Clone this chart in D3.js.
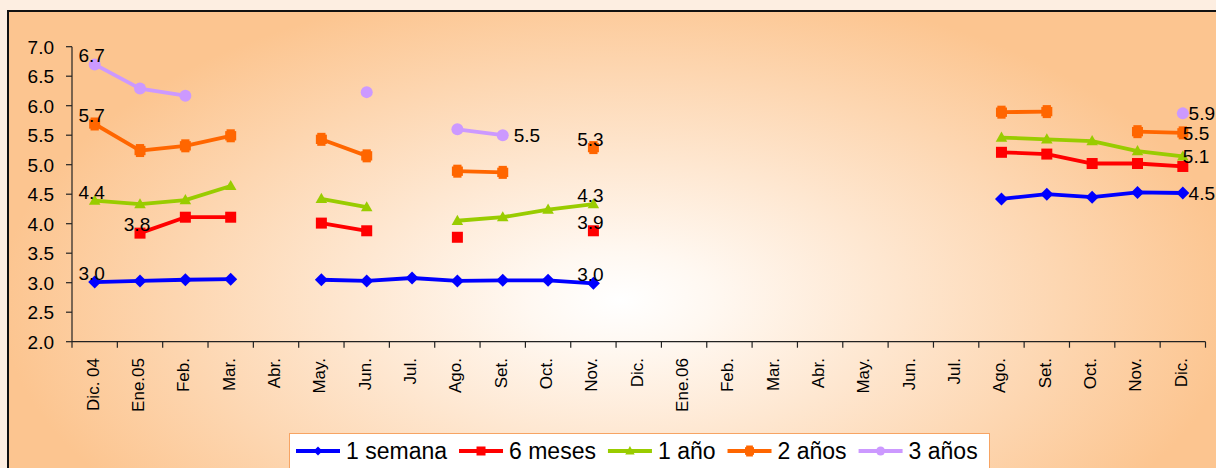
<!DOCTYPE html>
<html>
<head>
<meta charset="utf-8">
<script src="https://cdn.jsdelivr.net/npm/d3@7"></script>
<style>
  html, body { margin: 0; padding: 0; background: #fdeee1; }
  svg { display: block; }
  text { font-family: "Liberation Sans", Arial, sans-serif; fill: #000; }
</style>
</head>
<body>
<svg id="chart" width="1216" height="468"></svg>
<script>
// ---- data ----
const months = ["Dic. 04","Ene.05","Feb.","Mar.","Abr.","May.","Jun.","Jul.","Ago.","Set.","Oct.","Nov.","Dic.",
                "Ene.06","Feb.","Mar.","Abr.","May.","Jun.","Jul.","Ago.","Set.","Oct.","Nov.","Dic."];
const yTicks = [2.0,2.5,3.0,3.5,4.0,4.5,5.0,5.5,6.0,6.5,7.0];
const seriesNames = ["1 semana","6 meses","1 año","2 años","3 años"];
const semana1 = [3.01,3.03,3.05,3.06,null,3.05,3.03,3.08,3.03,3.04,3.04,2.99,null,null,null,null,null,null,null,null,4.42,4.50,4.45,4.53,4.52];
const meses6  = [null,3.84,4.11,4.11,null,4.01,3.88,null,3.77,null,null,3.88,null,null,null,null,null,null,null,null,5.21,5.18,5.02,5.02,4.97];
const ano1    = [4.39,4.33,4.40,4.64,null,4.42,4.28,null,4.05,4.11,4.24,4.33,null,null,null,null,null,null,null,null,5.46,5.43,5.40,5.23,5.14];
const anos2   = [5.69,5.24,5.32,5.49,null,5.43,5.15,null,4.89,4.87,null,5.29,null,null,null,null,null,null,null,null,5.89,5.90,null,5.56,5.54];
const anos3   = [6.70,6.29,6.17,null,null,null,6.23,null,5.60,5.50,null,null,null,null,null,null,null,null,null,null,null,null,null,null,5.87];
// data labels: [series index, month index, placement]
const dataLabels = [[4,0,"above"],[3,0,"above"],[2,0,"above"],[1,1,"above"],[0,0,"above"],
                    [4,9,"right"],[3,11,"above"],[2,11,"above"],[1,11,"above"],[0,11,"above"],
                    [4,24,"edge"],[3,24,"over"],[2,24,"over"],[0,24,"edge"]];

const allSeries = [semana1, meses6, ano1, anos2, anos3];
const colors = ["#0000ff","#ff0000","#99cc00","#ff6600","#cc99ff"];
const shapes = ["diamond","square","triangle","square2","circle"];

// ---- layout ----
const svg = d3.select("#chart");
const defs = svg.append("defs");
const grad = defs.append("radialGradient").attr("id","bg")
  .attr("gradientUnits","userSpaceOnUse")
  .attr("cx",620).attr("cy",300).attr("r",620)
  .attr("gradientTransform","translate(620,300) scale(1,0.52) translate(-620,-300)");
grad.append("stop").attr("offset",0).attr("stop-color","#ffffff");
grad.append("stop").attr("offset",0.15).attr("stop-color","#fff8f1");
grad.append("stop").attr("offset",1).attr("stop-color","#fcc590");

svg.append("rect").attr("x",8).attr("y",11).attr("width",1220).attr("height",470)
  .attr("fill","url(#bg)").attr("stroke","#111").attr("stroke-width",2);

const x = d3.scaleBand().domain(d3.range(months.length)).range([72,1205.5]).paddingInner(0).paddingOuter(0);
const y = d3.scaleLinear().domain([2,7]).range([341.7,46.7]);
const cx = i => x(i) + x.bandwidth()/2;

// y axis
const gy = svg.append("g");
gy.append("line").attr("x1",72).attr("x2",72).attr("y1",y(7)).attr("y2",y(2)).attr("stroke","#222").attr("stroke-width",1.2);
gy.selectAll("line.t").data(yTicks).join("line").attr("class","t")
  .attr("x1",66).attr("x2",72).attr("y1",d=>y(d)).attr("y2",d=>y(d)).attr("stroke","#222").attr("stroke-width",1.2);
gy.selectAll("text").data(yTicks).join("text")
  .attr("x",54).attr("y",d=>y(d)).attr("dy","0.36em").attr("text-anchor","end")
  .style("font-size","19px").text(d=>d3.format(".1f")(d));

// x axis
const gx = svg.append("g");
gx.append("line").attr("x1",72).attr("x2",1205.5).attr("y1",y(2)).attr("y2",y(2)).attr("stroke","#222").attr("stroke-width",1.2);
const bounds = d3.range(months.length+1).map(i => i < months.length ? x(i) : x(months.length-1)+x.bandwidth());
gx.selectAll("line.t").data(bounds).join("line").attr("class","t")
  .attr("x1",d=>d).attr("x2",d=>d).attr("y1",y(2)).attr("y2",y(2)+6).attr("stroke","#222").attr("stroke-width",1.2);
gx.selectAll("text").data(months).join("text")
  .attr("transform",(d,i)=>`translate(${cx(i)-2},358) rotate(-90)`)
  .attr("dy","0.35em").attr("text-anchor","end")
  .style("font-size","17px").text(d=>d);

// marker drawing
function drawMarker(g, shape, color, s) {
  if (shape === "diamond") {
    g.append("path").attr("d",`M0,${-s}L${s},0L0,${s}L${-s},0Z`).attr("fill",color);
  } else if (shape === "square") {
    g.append("rect").attr("x",-s).attr("y",-s).attr("width",2*s).attr("height",2*s).attr("fill",color);
  } else if (shape === "square2") {
    g.append("rect").attr("x",-s).attr("y",-s*0.85).attr("width",2*s).attr("height",1.7*s).attr("fill",color);
    g.append("line").attr("x1",0).attr("x2",0).attr("y1",-s-1).attr("y2",s+1).attr("stroke",color).attr("stroke-width",1.5*s);
  } else if (shape === "triangle") {
    g.append("path").attr("d",`M0,${-s*1.1}L${s*1.05},${s*0.75}L${-s*1.05},${s*0.75}Z`).attr("fill",color);
  } else {
    g.append("circle").attr("r",s).attr("fill",color);
  }
}

// series
const line = d3.line().defined(d=>d.v!=null).x(d=>cx(d.i)).y(d=>y(d.v));
allSeries.forEach((vals, k) => {
  const pts = vals.map((v,i)=>({i, v}));
  const g = svg.append("g");
  g.append("path").attr("d", line(pts)).attr("fill","none")
    .attr("stroke",colors[k]).attr("stroke-width",3.8).attr("stroke-linejoin","round");
  pts.filter(d=>d.v!=null).forEach(d => {
    const m = g.append("g").attr("transform",`translate(${cx(d.i)},${y(d.v)})`);
    drawMarker(m, shapes[k], colors[k], k===0 ? 6.5 : (k===4 ? 6 : 5.5));
  });
});

// data labels
const gl = svg.append("g");
dataLabels.forEach(([k,i,pos]) => {
  const v = allSeries[k][i];
  const t = gl.append("text").style("font-size","19px").text(d3.format(".1f")(v));
  if (pos === "above") {
    t.attr("x",cx(i)-3).attr("y",y(v)-2).attr("text-anchor","middle");
  } else if (pos === "right") {
    t.attr("x",cx(i)+11).attr("y",y(v)+7).attr("text-anchor","start");
  } else if (pos === "edge") {
    t.attr("x",1215).attr("y",y(v)+7).attr("text-anchor","end");
  } else {
    t.attr("x",cx(i)).attr("y",y(v)+7).attr("text-anchor","start");
  }
});

// legend
const lg = svg.append("g");
lg.append("rect").attr("x",289.5).attr("y",433.5).attr("width",700).attr("height",40)
  .attr("fill","#ffffff").attr("stroke","#f7a463").attr("stroke-width",1);
let lx = 296;
seriesNames.forEach((name,k) => {
  const ly = 451;
  lg.append("line").attr("x1",lx).attr("x2",lx+44).attr("y1",ly).attr("y2",ly)
    .attr("stroke",colors[k]).attr("stroke-width",3.8);
  const m = lg.append("g").attr("transform",`translate(${lx+22},${ly})`);
  drawMarker(m, shapes[k], colors[k], 4.5);
  const t = lg.append("text").attr("x",lx+50).attr("y",ly).attr("dy","0.36em")
    .style("font-size","23px").text(name);
  lx = lx + 50 + t.node().getComputedTextLength() + 12;
});
</script>
</body>
</html>
